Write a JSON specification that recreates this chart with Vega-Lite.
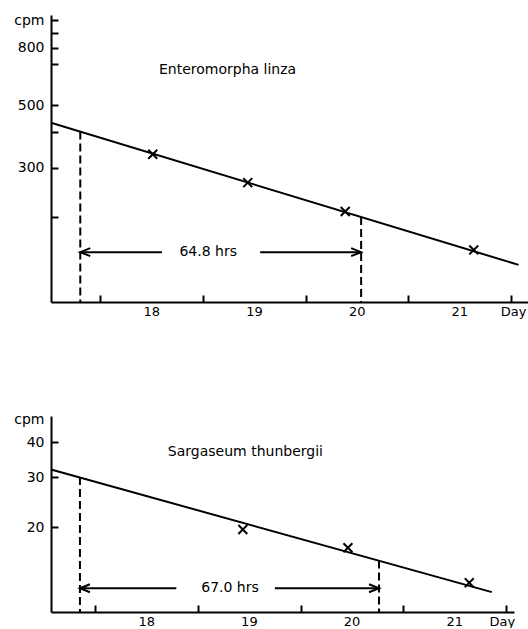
{
  "$schema": "https://vega.github.io/schema/vega-lite/v6.json",
  "background": "white",
  "padding": {"left": 13, "top": 13, "right": 0, "bottom": 0},
  "spacing": 94,
  "config": {
    "view": {"stroke": null},
    "axis": {
      "grid": false,
      "domainColor": "black",
      "domainWidth": 2,
      "tickColor": "black",
      "tickWidth": 2,
      "tickSize": -7,
      "labelColor": "black",
      "labelFont": "DejaVu Sans",
      "labelFontSize": 14,
      "labelOverlap": false,
      "labelFlush": false,
      "labelBound": false
    },
    "axisX": {"labelPadding": 10, "labelFontSize": 13},
    "axisY": {"labelPadding": 14},
    "text": {"font": "DejaVu Sans", "fontSize": 14, "color": "black"}
  },
  "datasets": {
    "e_pts": [
      {"day": 18.011, "cpm": 334.8},
      {"day": 18.936, "cpm": 265.4},
      {"day": 19.885, "cpm": 209.5},
      {"day": 21.137, "cpm": 153.1}
    ],
    "e_fit": [
      {"day": 17.02, "cpm": 433},
      {"day": 21.573, "cpm": 135.5}
    ],
    "e_dash": [
      {"day": 17.305, "top": 403, "bottom": 100},
      {"day": 20.04, "top": 200.4, "bottom": 100}
    ],
    "e_arrow": [
      {"from": 17.305, "to": 18.1, "cpm": 150.3},
      {"from": 19.057, "to": 20.04, "cpm": 150.3}
    ],
    "e_heads": [
      {"day": 17.305, "cpm": 150.3, "dir": "left"},
      {"day": 20.04, "cpm": 150.3, "dir": "right"}
    ],
    "e_text": [
      {"day": 18.551, "cpm": 150.3, "label": "64.8  hrs"},
      {"day": 18.739, "cpm": 666.6, "label": "Enteromorpha  linza"}
    ],
    "s_pts": [
      {"day": 18.938, "cpm": 19.6},
      {"day": 19.962, "cpm": 16.9},
      {"day": 21.144, "cpm": 12.7}
    ],
    "s_fit": [
      {"day": 17.069, "cpm": 32.0},
      {"day": 21.364, "cpm": 11.76}
    ],
    "s_dash": [
      {"day": 17.351, "top": 30.07, "bottom": 10},
      {"day": 20.265, "top": 15.21, "bottom": 10}
    ],
    "s_arrow": [
      {"from": 17.351, "to": 18.29, "cpm": 12.14},
      {"from": 19.25, "to": 20.265, "cpm": 12.14}
    ],
    "s_heads": [
      {"day": 17.351, "cpm": 12.14, "dir": "left"},
      {"day": 20.265, "cpm": 12.14, "dir": "right"}
    ],
    "s_text": [
      {"day": 18.813, "cpm": 12.14, "label": "67.0  hrs"},
      {"day": 18.963, "cpm": 36.8, "label": "Sargaseum  thunbergii"}
    ]
  },
  "vconcat": [
    {
      "width": 477,
      "height": 287,
      "layer": [
        {
          "data": {"name": "e_fit"},
          "mark": {"type": "line", "color": "black", "strokeWidth": 2},
          "encoding": {
            "x": {
              "field": "day", "type": "quantitative",
              "scale": {"domain": [17.02, 21.665], "nice": false, "zero": false},
              "axis": {
                "title": null,
                "values": [17.5, 18.5, 19.5, 20.5, 21.5],
                "labelExpr": "datum.value > 21 ? 'Day' : format(datum.value + 0.5, 'd')",
                "labelOffset": {"condition": {"test": "datum.value > 21", "value": 2}, "value": 51}
              }
            },
            "y": {
              "field": "cpm", "type": "quantitative",
              "scale": {"type": "log", "domain": [100, 1045], "nice": false},
              "axis": {
                "title": null,
                "values": [200, 300, 400, 500, 700, 800, 900, 1000],
                "labelExpr": "datum.value == 1000 ? 'cpm' : (datum.value == 300 || datum.value == 500 || datum.value == 800) ? format(datum.value, 'd') : ''"
              }
            }
          }
        },
        {
          "data": {"name": "e_dash"},
          "mark": {"type": "rule", "color": "black", "strokeWidth": 2, "strokeDash": [8, 4]},
          "encoding": {
            "x": {"field": "day", "type": "quantitative", "scale": {"domain": [17.02, 21.665], "nice": false, "zero": false}},
            "y": {"field": "top", "type": "quantitative", "scale": {"type": "log", "domain": [100, 1045], "nice": false}},
            "y2": {"field": "bottom"}
          }
        },
        {
          "data": {"name": "e_arrow"},
          "mark": {"type": "rule", "color": "black", "strokeWidth": 2},
          "encoding": {
            "x": {"field": "from", "type": "quantitative", "scale": {"domain": [17.02, 21.665], "nice": false, "zero": false}},
            "x2": {"field": "to"},
            "y": {"field": "cpm", "type": "quantitative", "scale": {"type": "log", "domain": [100, 1045], "nice": false}}
          }
        },
        {
          "data": {"name": "e_heads"},
          "mark": {"type": "point", "filled": false, "color": "black", "strokeWidth": 2, "size": 100, "opacity": 1},
          "encoding": {
            "x": {"field": "day", "type": "quantitative", "scale": {"domain": [17.02, 21.665], "nice": false, "zero": false}},
            "y": {"field": "cpm", "type": "quantitative", "scale": {"type": "log", "domain": [100, 1045], "nice": false}},
            "shape": {"field": "dir", "type": "nominal", "scale": {"domain": ["left", "right"], "range": ["M2,-0.8L0,0L2,0.8", "M-2,-0.8L0,0L-2,0.8"]}, "legend": null}
          }
        },
        {
          "data": {"name": "e_pts"},
          "mark": {"type": "point", "shape": "M-1,-1L1,1M-1,1L1,-1", "filled": false, "color": "black", "strokeWidth": 2, "size": 80, "opacity": 1},
          "encoding": {
            "x": {"field": "day", "type": "quantitative", "scale": {"domain": [17.02, 21.665], "nice": false, "zero": false}},
            "y": {"field": "cpm", "type": "quantitative", "scale": {"type": "log", "domain": [100, 1045], "nice": false}}
          }
        },
        {
          "data": {"name": "e_text"},
          "mark": {"type": "text", "align": "center", "baseline": "middle"},
          "encoding": {
            "x": {"field": "day", "type": "quantitative", "scale": {"domain": [17.02, 21.665], "nice": false, "zero": false}},
            "y": {"field": "cpm", "type": "quantitative", "scale": {"type": "log", "domain": [100, 1045], "nice": false}},
            "text": {"field": "label"}
          }
        }
      ]
    },
    {
      "width": 463,
      "height": 196,
      "layer": [
        {
          "data": {"name": "s_fit"},
          "mark": {"type": "line", "color": "black", "strokeWidth": 2},
          "encoding": {
            "x": {
              "field": "day", "type": "quantitative",
              "scale": {"domain": [17.069, 21.58], "nice": false, "zero": false},
              "axis": {
                "title": null,
                "values": [17.5, 18.5, 19.5, 20.5, 21.5],
                "labelExpr": "datum.value > 21 ? 'Day' : format(datum.value + 0.5, 'd')",
                "labelOffset": {"condition": {"test": "datum.value > 21", "value": -4}, "value": 51}
              }
            },
            "y": {
              "field": "cpm", "type": "quantitative",
              "scale": {"type": "log", "domain": [10, 49.5], "nice": false},
              "axis": {
                "title": null,
                "values": [20, 30, 40, 48],
                "labelExpr": "datum.value == 48 ? 'cpm' : format(datum.value, 'd')",
                "tickOpacity": {"condition": {"test": "datum.value == 48", "value": 0}, "value": 1}
              }
            }
          }
        },
        {
          "data": {"name": "s_dash"},
          "mark": {"type": "rule", "color": "black", "strokeWidth": 2, "strokeDash": [8, 4]},
          "encoding": {
            "x": {"field": "day", "type": "quantitative", "scale": {"domain": [17.069, 21.58], "nice": false, "zero": false}},
            "y": {"field": "top", "type": "quantitative", "scale": {"type": "log", "domain": [10, 49.5], "nice": false}},
            "y2": {"field": "bottom"}
          }
        },
        {
          "data": {"name": "s_arrow"},
          "mark": {"type": "rule", "color": "black", "strokeWidth": 2},
          "encoding": {
            "x": {"field": "from", "type": "quantitative", "scale": {"domain": [17.069, 21.58], "nice": false, "zero": false}},
            "x2": {"field": "to"},
            "y": {"field": "cpm", "type": "quantitative", "scale": {"type": "log", "domain": [10, 49.5], "nice": false}}
          }
        },
        {
          "data": {"name": "s_heads"},
          "mark": {"type": "point", "filled": false, "color": "black", "strokeWidth": 2, "size": 100, "opacity": 1},
          "encoding": {
            "x": {"field": "day", "type": "quantitative", "scale": {"domain": [17.069, 21.58], "nice": false, "zero": false}},
            "y": {"field": "cpm", "type": "quantitative", "scale": {"type": "log", "domain": [10, 49.5], "nice": false}},
            "shape": {"field": "dir", "type": "nominal", "scale": {"domain": ["left", "right"], "range": ["M2,-0.8L0,0L2,0.8", "M-2,-0.8L0,0L-2,0.8"]}, "legend": null}
          }
        },
        {
          "data": {"name": "s_pts"},
          "mark": {"type": "point", "shape": "M-1,-1L1,1M-1,1L1,-1", "filled": false, "color": "black", "strokeWidth": 2, "size": 80, "opacity": 1},
          "encoding": {
            "x": {"field": "day", "type": "quantitative", "scale": {"domain": [17.069, 21.58], "nice": false, "zero": false}},
            "y": {"field": "cpm", "type": "quantitative", "scale": {"type": "log", "domain": [10, 49.5], "nice": false}}
          }
        },
        {
          "data": {"name": "s_text"},
          "mark": {"type": "text", "align": "center", "baseline": "middle"},
          "encoding": {
            "x": {"field": "day", "type": "quantitative", "scale": {"domain": [17.069, 21.58], "nice": false, "zero": false}},
            "y": {"field": "cpm", "type": "quantitative", "scale": {"type": "log", "domain": [10, 49.5], "nice": false}},
            "text": {"field": "label"}
          }
        }
      ]
    }
  ]
}
